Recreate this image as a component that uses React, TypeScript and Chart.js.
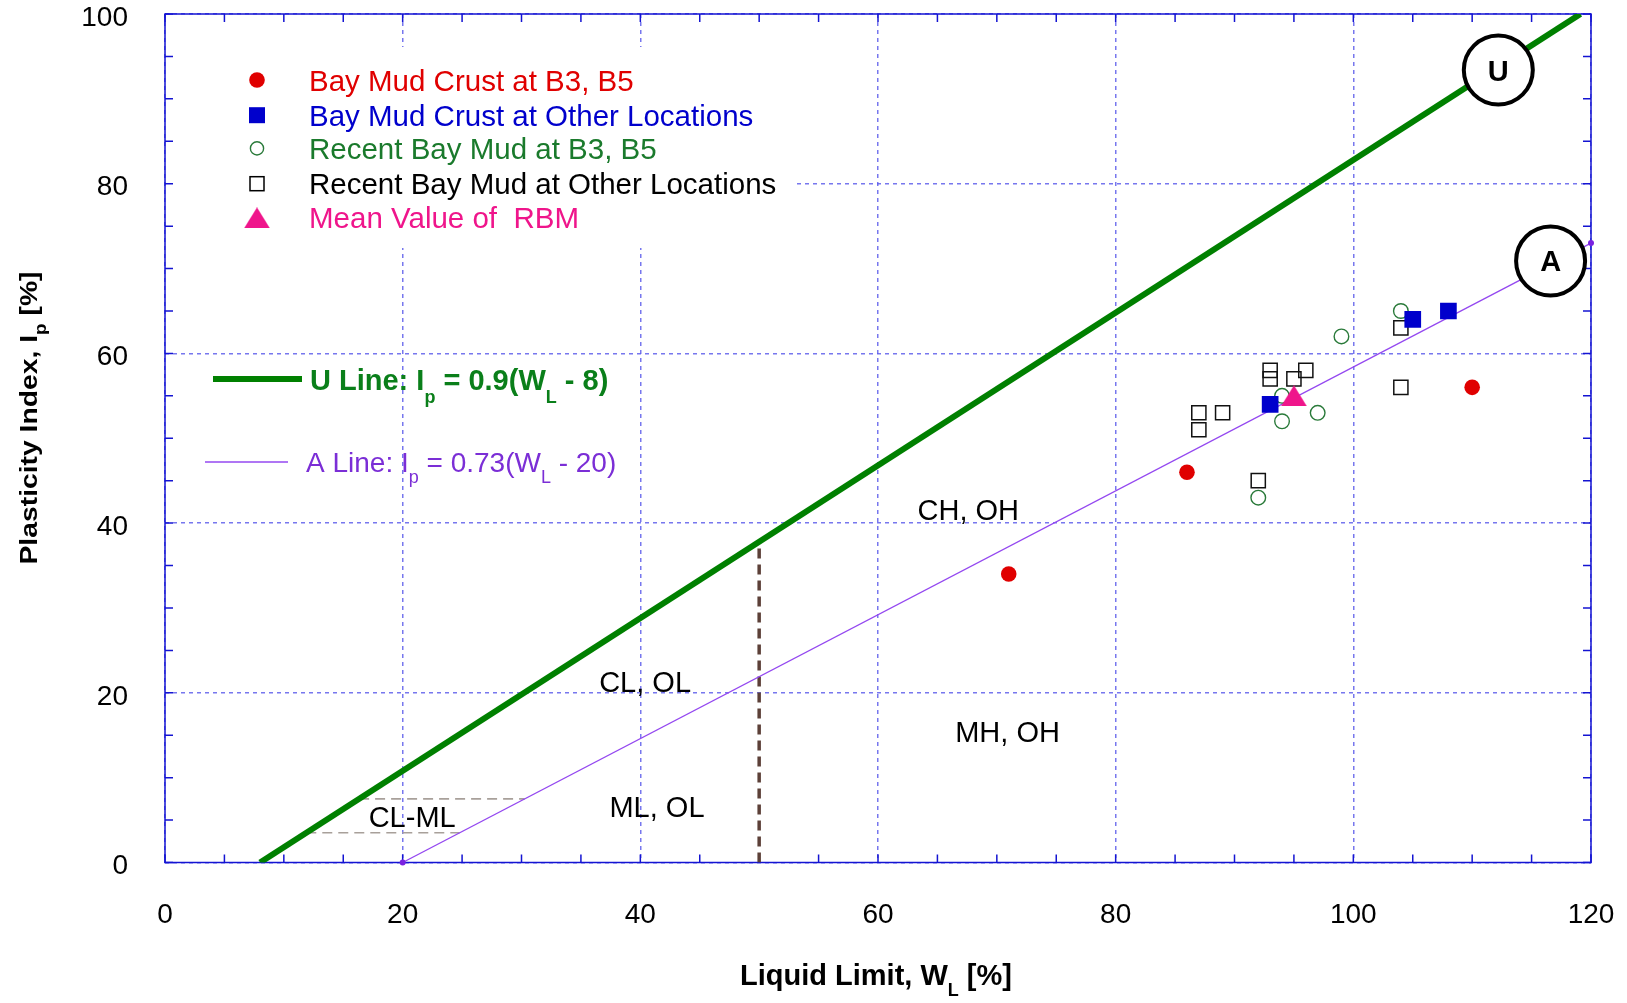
import React, { useEffect, useRef } from "react";
import { Chart, registerables } from "chart.js";

Chart.register(...registerables);

// Axis ranges and tick spacing
const W_RANGE = [0, 120];
const IP_RANGE = [0, 100];
const MAJOR_STEP = 20;
const MINOR_STEP = 5;

// Classification lines of the plasticity chart
const U_SLOPE = 0.9;
const U_W0 = 8;
const A_SLOPE = 0.73;
const A_W0 = 20;
const CLML_BAND = [3.5, 7.5];
const HIGH_PLASTICITY_W = 50;

// Samples: liquid limit W_L [%] and plasticity index I_p [%]
const crustB3B5W = [71, 86, 110];
const crustB3B5Ip = [34, 46, 56];

const crustOtherW = [93, 105, 108];
const crustOtherIp = [54, 64, 65];

const recentB3B5W = [92, 94, 94, 97, 99, 104];
const recentB3B5Ip = [43, 52, 55, 53, 62, 65];

const recentOtherW = [87, 87, 89, 92, 93, 93, 95, 96, 104, 104];
const recentOtherIp = [51, 53, 53, 45, 57, 58, 57, 58, 56, 63];

const meanRbmW = [95];
const meanRbmIp = [55];

// Zone names placed in data coordinates
const zoneNames = ["CH, OH", "CL, OL", "MH, OH", "ML, OL", "CL-ML"];
const zoneW = [67.6, 40.4, 70.9, 41.4, 20.8];
const zoneIp = [41.4, 21.2, 15.3, 6.4, 5.3];

// Circled line tags
const tagNames = ["U", "A"];
const tagW = [112.2, 116.6];
const tagIp = [93.4, 70.9];

const legendNames = [
  "Bay Mud Crust at B3, B5",
  "Bay Mud Crust at Other Locations",
  "Recent Bay Mud at B3, B5",
  "Recent Bay Mud at Other Locations",
  "Mean Value of  RBM",
];

const FONT = "'Liberation Sans', Arial, Helvetica, sans-serif";

const RED = "#e00000";
const BLUE = "#0000cc";
const GREEN_PT = "#2a7a3a";
const PINK = "#ef158b";
const U_GREEN = "#008000";
const A_PURPLE = "#9448f0";
const FRAME = "#1414d2";
const GRID = "rgba(95, 95, 235, 0.85)";

const pts = (ws: number[], ips: number[]) => ws.map((w, i) => ({ x: w, y: ips[i] }));

function makeTriangle(w: number, h: number, color: string) {
  const c = document.createElement("canvas");
  c.width = Math.ceil(w);
  c.height = Math.ceil(h);
  const g = c.getContext("2d")!;
  g.fillStyle = color;
  g.beginPath();
  g.moveTo(c.width / 2, 0);
  g.lineTo(c.width, c.height);
  g.lineTo(0, c.height);
  g.closePath();
  g.fill();
  return c;
}

type Seg = { t: string; sub?: boolean };

function segWidth(ctx: CanvasRenderingContext2D, segs: Seg[], font: string, subFont: string) {
  let w = 0;
  for (const s of segs) {
    ctx.font = s.sub ? subFont : font;
    w += ctx.measureText(s.t).width;
  }
  return w;
}

function drawSegs(
  ctx: CanvasRenderingContext2D,
  segs: Seg[],
  x: number,
  y: number,
  font: string,
  subFont: string,
  subDy: number
) {
  let cx = x;
  for (const s of segs) {
    ctx.font = s.sub ? subFont : font;
    ctx.fillText(s.t, cx, s.sub ? y + subDy : y);
    cx += ctx.measureText(s.t).width;
  }
}

export default function App() {
  const canvasRef = useRef<HTMLCanvasElement | null>(null);

  useEffect(() => {
    const canvas = canvasRef.current;
    if (!canvas) return;

    const triangle = makeTriangle(26, 21, PINK);

    const uTop = IP_RANGE[1];
    const uLine = [
      { x: U_W0, y: 0 },
      { x: U_W0 + uTop / U_SLOPE, y: uTop },
    ];
    const aLine = [
      { x: A_W0, y: 0 },
      { x: W_RANGE[1], y: A_SLOPE * (W_RANGE[1] - A_W0) },
    ];
    const boundary = [
      { x: HIGH_PLASTICITY_W, y: 0 },
      { x: HIGH_PLASTICITY_W, y: U_SLOPE * (HIGH_PLASTICITY_W - U_W0) },
    ];
    const bandLine = (ip: number) => [
      { x: ip / U_SLOPE + U_W0, y: ip },
      { x: ip / A_SLOPE + A_W0, y: ip },
    ];

    const decor = {
      id: "decor",
      beforeDatasetsDraw(chart: any) {
        const { ctx, chartArea: a, scales } = chart;
        const xs = scales.x;
        const ys = scales.y;
        ctx.save();
        // blank panel behind the legend
        ctx.fillStyle = "#fff";
        ctx.fillRect(a.left + 1, 47, 795 - a.left - 1, 248 - 47);

        // frame
        ctx.strokeStyle = FRAME;
        ctx.lineWidth = 1.5;
        ctx.setLineDash([]);
        ctx.strokeRect(a.left, a.top, a.right - a.left, a.bottom - a.top);

        // inward minor ticks on all four sides
        ctx.beginPath();
        for (let w = W_RANGE[0]; w <= W_RANGE[1]; w += MINOR_STEP) {
          const px = xs.getPixelForValue(w);
          ctx.moveTo(px, a.bottom);
          ctx.lineTo(px, a.bottom - 8);
          ctx.moveTo(px, a.top);
          ctx.lineTo(px, a.top + 8);
        }
        for (let ip = IP_RANGE[0]; ip <= IP_RANGE[1]; ip += MINOR_STEP) {
          const py = ys.getPixelForValue(ip);
          ctx.moveTo(a.left, py);
          ctx.lineTo(a.left + 8, py);
          ctx.moveTo(a.right, py);
          ctx.lineTo(a.right - 8, py);
        }
        ctx.stroke();

        // zone names
        ctx.fillStyle = "#000";
        ctx.font = `29px ${FONT}`;
        ctx.textAlign = "center";
        ctx.textBaseline = "middle";
        zoneNames.forEach((n, i) => {
          ctx.fillText(n, xs.getPixelForValue(zoneW[i]), ys.getPixelForValue(zoneIp[i]) + 1);
        });
        ctx.restore();
      },
      afterDatasetsDraw(chart: any) {
        const { ctx, scales } = chart;
        const xs = scales.x;
        const ys = scales.y;
        ctx.save();

        // circled U / A tags
        tagNames.forEach((n, i) => {
          const cx = xs.getPixelForValue(tagW[i]);
          const cy = ys.getPixelForValue(tagIp[i]);
          ctx.beginPath();
          ctx.arc(cx, cy, 34.5, 0, Math.PI * 2);
          ctx.fillStyle = "#fff";
          ctx.fill();
          ctx.lineWidth = 4;
          ctx.strokeStyle = "#000";
          ctx.stroke();
          ctx.fillStyle = "#000";
          ctx.font = `bold 29px ${FONT}`;
          ctx.textAlign = "center";
          ctx.textBaseline = "alphabetic";
          ctx.fillText(n, cx, cy + 10.5);
        });

        // symbol legend
        const rows = [80, 115.2, 148.4, 183.7, 217.9];
        const mx = 257;
        const colors = [RED, BLUE, "#1a7a2c", "#000", PINK];
        ctx.textAlign = "left";
        ctx.textBaseline = "alphabetic";
        ctx.font = `29.5px ${FONT}`;
        rows.forEach((ry, i) => {
          ctx.fillStyle = colors[i];
          ctx.fillText(legendNames[i], 309, ry + 10.5);
        });
        ctx.fillStyle = RED;
        ctx.beginPath();
        ctx.arc(mx, rows[0], 7.8, 0, Math.PI * 2);
        ctx.fill();
        ctx.fillStyle = BLUE;
        ctx.fillRect(mx - 8, rows[1] - 8, 16, 16);
        ctx.strokeStyle = GREEN_PT;
        ctx.lineWidth = 1.4;
        ctx.beginPath();
        ctx.arc(mx, rows[2], 6.6, 0, Math.PI * 2);
        ctx.stroke();
        ctx.strokeStyle = "#000";
        ctx.lineWidth = 1.5;
        ctx.strokeRect(mx - 7, rows[3] - 7, 14, 14);
        ctx.drawImage(triangle, mx - 13, rows[4] - 10.5);

        // line legend
        ctx.setLineDash([]);
        ctx.lineCap = "butt";
        ctx.strokeStyle = U_GREEN;
        ctx.lineWidth = 6;
        ctx.beginPath();
        ctx.moveTo(213, 379);
        ctx.lineTo(302, 379);
        ctx.stroke();
        ctx.strokeStyle = A_PURPLE;
        ctx.lineWidth = 1.3;
        ctx.beginPath();
        ctx.moveTo(205, 462);
        ctx.lineTo(288, 462);
        ctx.stroke();

        ctx.fillStyle = "#0a7f1a";
        drawSegs(
          ctx,
          [
            { t: "U Line: I" },
            { t: "p", sub: true },
            { t: " = 0.9(W" },
            { t: "L", sub: true },
            { t: " - 8)" },
          ],
          310,
          390,
          `bold 29px ${FONT}`,
          `bold 18px ${FONT}`,
          13
        );
        ctx.fillStyle = "#7b2ed6";
        drawSegs(
          ctx,
          [
            { t: "A Line: I" },
            { t: "p", sub: true },
            { t: " = 0.73(W" },
            { t: "L", sub: true },
            { t: " - 20)" },
          ],
          306,
          471.5,
          `28px ${FONT}`,
          `18px ${FONT}`,
          11
        );

        // axis titles
        ctx.fillStyle = "#000";
        const xSegs: Seg[] = [{ t: "Liquid Limit, W" }, { t: "L", sub: true }, { t: " [%]" }];
        const xf = `bold 29px ${FONT}`;
        const xsf = `bold 18px ${FONT}`;
        const xw = segWidth(ctx, xSegs, xf, xsf);
        drawSegs(ctx, xSegs, 876 - xw / 2, 985, xf, xsf, 11);

        const ySegs: Seg[] = [{ t: "Plasticity Index, I" }, { t: "p", sub: true }, { t: " [%]" }];
        const yf = `bold 24px ${FONT}`;
        const ysf = `bold 16px ${FONT}`;
        const yw = segWidth(ctx, ySegs, yf, ysf);
        const stretch = 293 / yw;
        ctx.save();
        ctx.translate(37, 418);
        ctx.rotate(-Math.PI / 2);
        ctx.scale(stretch, 1);
        drawSegs(ctx, ySegs, -yw / 2, 0, yf, ysf, 9);
        ctx.restore();

        ctx.restore();
      },
    };

    const lineBase = { showLine: true, fill: false, pointRadius: 0, pointHoverRadius: 0 };

    const chart = new Chart(canvas, {
      type: "scatter",
      data: {
        datasets: [
          {
            label: legendNames[4],
            data: pts(meanRbmW, meanRbmIp),
            pointStyle: triangle as any,
            pointRadius: 13,
          },
          {
            label: legendNames[1],
            data: pts(crustOtherW, crustOtherIp),
            pointStyle: "rect",
            pointRadius: 11.8,
            pointBackgroundColor: BLUE,
            pointBorderColor: BLUE,
            pointBorderWidth: 0,
          },
          {
            label: legendNames[0],
            data: pts(crustB3B5W, crustB3B5Ip),
            pointStyle: "circle",
            pointRadius: 7.8,
            pointBackgroundColor: RED,
            pointBorderColor: RED,
            pointBorderWidth: 0,
          },
          {
            label: legendNames[2],
            data: pts(recentB3B5W, recentB3B5Ip),
            pointStyle: "circle",
            pointRadius: 7.3,
            pointBackgroundColor: "rgba(0,0,0,0)",
            pointBorderColor: GREEN_PT,
            pointBorderWidth: 1.4,
          },
          {
            label: legendNames[3],
            data: pts(recentOtherW, recentOtherIp),
            pointStyle: "rect",
            pointRadius: 10,
            pointBackgroundColor: "rgba(0,0,0,0)",
            pointBorderColor: "#111",
            pointBorderWidth: 1.5,
          },
          {
            ...lineBase,
            label: "A Line",
            data: aLine,
            borderColor: A_PURPLE,
            borderWidth: 1.4,
            pointRadius: 3,
            pointBackgroundColor: "#7a22e0",
            pointBorderWidth: 0,
            clip: false as any,
          },
          {
            ...lineBase,
            label: "U Line",
            data: uLine,
            borderColor: U_GREEN,
            borderWidth: 6,
            borderCapStyle: "butt",
          },
          {
            ...lineBase,
            label: "W_L = 50",
            data: boundary,
            borderColor: "#5c4038",
            borderWidth: 3.5,
            borderDash: [10, 6],
          },
          {
            ...lineBase,
            label: "CL-ML upper",
            data: bandLine(CLML_BAND[1]),
            borderColor: "#a8a09a",
            borderWidth: 1.6,
            borderDash: [10, 6],
          },
          {
            ...lineBase,
            label: "CL-ML lower",
            data: bandLine(CLML_BAND[0]),
            borderColor: "#a8a09a",
            borderWidth: 1.6,
            borderDash: [10, 6],
          },
        ] as any,
      },
      options: {
        animation: false,
        responsive: false,
        devicePixelRatio: 1,
        events: [],
        layout: { autoPadding: false, padding: { top: 14, right: 36, left: 0, bottom: 0 } },
        plugins: { legend: { display: false }, tooltip: { enabled: false } },
        scales: {
          x: {
            type: "linear",
            position: "bottom",
            min: W_RANGE[0],
            max: W_RANGE[1],
            ticks: {
              stepSize: MAJOR_STEP,
              autoSkip: false,
              maxRotation: 0,
              color: "#000",
              padding: 36,
              font: { family: FONT, size: 28 },
            },
            grid: { color: GRID, lineWidth: 1.5, drawTicks: false },
            border: { display: false, dash: [4, 4] },
            afterFit: (s: any) => {
              s.height = 140.5;
              s.paddingLeft = 0;
              s.paddingRight = 0;
            },
          },
          y: {
            type: "linear",
            position: "left",
            min: IP_RANGE[0],
            max: IP_RANGE[1],
            ticks: {
              stepSize: MAJOR_STEP,
              autoSkip: false,
              color: "#000",
              padding: 37,
              labelOffset: 4,
              font: { family: FONT, size: 28 },
            },
            grid: { color: GRID, lineWidth: 1.5, drawTicks: false },
            border: { display: false, dash: [4, 4] },
            afterFit: (s: any) => {
              s.width = 165;
              s.paddingTop = 0;
              s.paddingBottom = 0;
            },
          },
        },
      } as any,
      plugins: [decor],
    });

    return () => chart.destroy();
  }, []);

  return (
    <div
      style={{
        position: "absolute",
        left: 0,
        top: 0,
        width: 1627,
        height: 1003,
        background: "#fff",
        overflow: "hidden",
      }}
    >
      <canvas ref={canvasRef} width={1627} height={1003} style={{ display: "block" }} />
    </div>
  );
}
